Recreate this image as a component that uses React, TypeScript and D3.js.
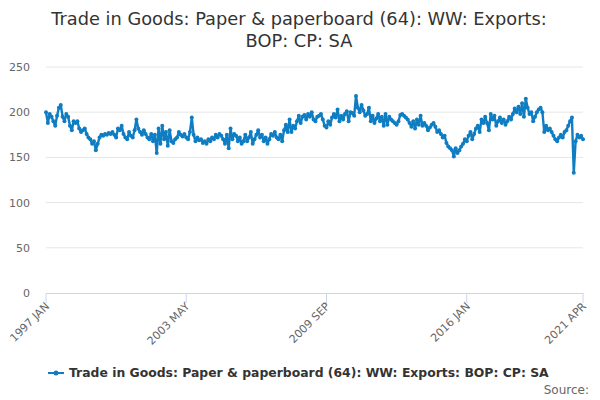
import * as d3 from "d3";

const startYear = 1997;
const values: number[] = [
  200, 188, 198, 195, 190, 185, 196, 205, 208, 195, 190, 198,
  195, 185, 180, 190, 188, 190, 182, 178, 180, 182, 176, 172,
  170, 165, 168, 158, 165, 172, 175, 174, 176, 175, 177, 176,
  178, 175, 172, 182, 180, 185, 176, 172, 170, 178, 174, 172,
  180, 192, 182, 178, 175, 180, 176, 172, 170, 176, 168, 175,
  155, 182, 165, 185, 170, 178, 163, 180, 168, 166, 170, 172,
  178, 175, 173, 176, 172, 170, 178, 194, 175, 168, 172, 169,
  170, 166, 168, 165, 170, 168, 172, 170, 175, 172, 176, 174,
  170, 165, 175, 160, 182, 170, 176, 174, 168, 172, 165, 168,
  175, 168, 172, 178, 165, 170, 175, 180, 172, 175, 168, 172,
  165, 170, 176, 174, 178, 172, 170, 175, 168, 180, 186, 178,
  192, 178, 185, 182, 190, 196, 188, 195, 197, 192, 198, 195,
  200, 192, 190, 195, 196, 198, 192, 185, 183, 190, 186, 194,
  198, 194, 203, 190, 196, 192, 198, 201, 190, 200, 199, 196,
  218, 205, 200, 208, 202, 196, 198, 205, 190, 196, 188, 193,
  198, 190, 195, 185, 198, 186, 195, 192, 190, 188, 186, 190,
  197, 198, 196, 194, 192, 188, 184, 190, 182, 192, 186, 196,
  185, 188, 185, 180, 183, 186, 188, 184, 178, 180, 176, 172,
  174, 166, 162, 160, 158, 151, 160, 155, 158, 162, 165, 170,
  168, 174, 178, 170, 176, 182, 185, 178, 192, 188, 195, 188,
  180, 198, 192, 196, 185, 190, 194, 188, 192, 186, 190, 195,
  192, 198, 204, 200, 206, 198, 210, 195, 215, 205, 198, 200,
  190, 195, 200, 203, 205, 200, 178, 185, 180, 182, 178, 174,
  170, 168, 172, 175, 172, 178, 180, 185, 190, 194, 133, 168,
  175, 172, 174, 170,
];
const months = ["JAN", "FEB", "MAR", "APR", "MAY", "JUN", "JUL", "AUG", "SEP", "OCT", "NOV", "DEC"];
const tickIndexes = [0, 76, 152, 228, 291];
const yTicks = [0, 50, 100, 150, 200, 250];
const title = ["Trade in Goods: Paper & paperboard (64): WW: Exports:", "BOP: CP: SA"];
const seriesName = "Trade in Goods: Paper & paperboard (64): WW: Exports: BOP: CP: SA";

const label = (i: number) => `${startYear + Math.floor(i / 12)} ${months[i % 12]}`;

export default function App() {
  const width = 600;
  const height = 400;
  const color = "#0f7dc2";
  const x = d3.scaleLinear().domain([0, values.length - 1]).range([46, 583]);
  const y = d3.scaleLinear().domain([0, 250]).range([293, 67]);
  const line = d3.line<number>().x((_, i) => x(i)).y((d) => y(d));
  const font = "'DejaVu Sans', Verdana, sans-serif";

  return (
    <svg width={width} height={height} style={{ position: "absolute", left: 0, top: 0, fontFamily: font }}>
      <rect width={width} height={height} fill="#fff" />
      {title.map((t, i) => (
        <text key={i} x={299} y={25 + i * 22} textAnchor="middle" fontSize={17.8} fill="#333">{t}</text>
      ))}
      {yTicks.map((t) => (
        <g key={t}>
          {t > 0 && <line x1={46} x2={583} y1={y(t)} y2={y(t)} stroke="#e6e6e6" />}
          <text x={30} y={y(t) + 4} textAnchor="end" fontSize={11} fill="#666">{t}</text>
        </g>
      ))}
      <line x1={46} x2={583} y1={y(0) + 0.5} y2={y(0) + 0.5} stroke="#ccd6eb" />
      {tickIndexes.map((i) => (
        <g key={i}>
          <line x1={x(i)} x2={x(i)} y1={y(0)} y2={y(0) + 10} stroke="#ccd6eb" />
          <text transform={`translate(${x(i) + 4},${y(0) + 14}) rotate(-45)`} textAnchor="end" fontSize={11} fill="#666">{label(i)}</text>
        </g>
      ))}
      <path d={line(values) ?? ""} fill="none" stroke={color} strokeWidth={2.4} strokeLinejoin="round" />
      {values.map((v, i) => (
        <circle key={i} cx={x(i)} cy={y(v)} r={2} fill={color} />
      ))}
      <g transform="translate(48,373)">
        <line x1={0} x2={16} y1={0} y2={0} stroke={color} strokeWidth={2} />
        <circle cx={8} cy={0} r={2.5} fill={color} />
        <text x={21} y={4} fontSize={12.4} fontWeight="bold" fill="#333">{seriesName}</text>
      </g>
      <text x={589} y={394} textAnchor="end" fontSize={12} fill="#666">Source:</text>
    </svg>
  );
}
